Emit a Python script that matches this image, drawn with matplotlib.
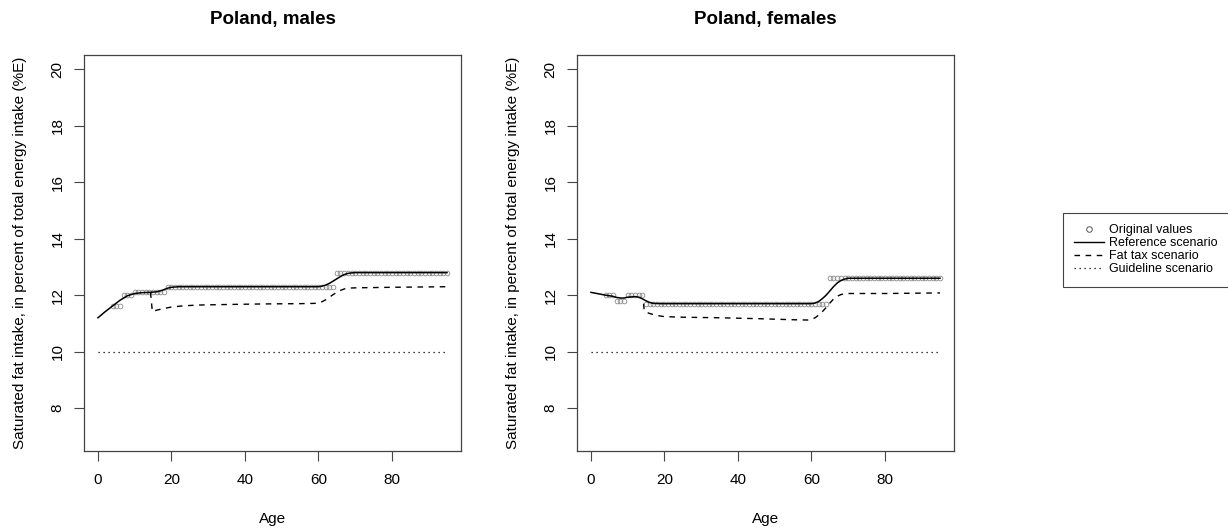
import matplotlib
matplotlib.use('Agg')
import matplotlib.pyplot as plt
from matplotlib.lines import Line2D

plt.rcParams['font.family'] = ['Liberation Sans', 'DejaVu Sans']

# ─────────────────────────────────────────────────────────────────────────────
# Data
# ─────────────────────────────────────────────────────────────────────────────

# original values: one circle per year of age, ages 4..95
orig_ages = list(range(4, 96))
males_orig = [11.6] * 3 + [12.0] * 3 + [12.1] * 9 + [12.3] * 46 + [12.8] * 31
females_orig = [12.0] * 3 + [11.8] * 3 + [12.0] * 5 + [11.7] * 50 + [12.6] * 31

# reference scenario (smoothed curve)
males_ref_ages = [0, 2, 4, 6, 8, 10, 12, 14, 16, 17, 18, 19, 20, 22, 60, 61, 62,
                  63, 64, 65, 66, 67, 68, 69, 70, 95]
males_ref = [11.2, 11.42, 11.62, 11.82, 11.98, 12.06, 12.09, 12.1, 12.12, 12.15,
             12.2, 12.25, 12.28, 12.3, 12.3, 12.32, 12.36, 12.42, 12.5, 12.58,
             12.66, 12.73, 12.77, 12.79, 12.8, 12.8]

females_ref_ages = [0, 2, 4, 6, 7, 8, 9, 10, 12, 13, 14, 15, 16, 17, 19, 60, 61,
                    62, 63, 64, 65, 66, 67, 68, 69, 70, 95]
females_ref = [12.1, 12.05, 12.0, 11.96, 11.92, 11.9, 11.9, 11.93, 11.95, 11.93,
               11.87, 11.8, 11.74, 11.71, 11.7, 11.7, 11.72, 11.78, 11.88, 12.0,
               12.15, 12.3, 12.43, 12.52, 12.57, 12.6, 12.6]

# fat tax scenario
males_tax_ages = [14.3, 14.8, 16, 18, 20, 23, 27, 35, 45, 55, 59, 60, 61, 62, 63,
                  64, 65, 66, 67, 68, 70, 80, 95]
males_tax = [12.1, 11.42, 11.47, 11.53, 11.58, 11.62, 11.65, 11.67, 11.69, 11.7,
             11.71, 11.73, 11.77, 11.84, 11.93, 12.02, 12.1, 12.17, 12.22, 12.25,
             12.26, 12.28, 12.3]

females_tax_ages = [14.3, 14.5, 15, 16, 18, 20, 25, 35, 45, 55, 59, 60, 61, 62, 63,
                    64, 65, 66, 67, 68, 69, 70, 80, 95]
females_tax = [11.7, 11.45, 11.4, 11.35, 11.28, 11.24, 11.22, 11.2, 11.17, 11.13,
               11.12, 11.14, 11.2, 11.3, 11.42, 11.56, 11.72, 11.86, 11.96, 12.02,
               12.05, 12.06, 12.06, 12.08]

# guideline scenario
guide_ages = [0, 95]
guide_vals = [10.0, 10.0]

x_ticks = [0, 20, 40, 60, 80]
y_ticks = [8, 10, 12, 14, 16, 18, 20]

W, H = 1228, 529
BOX_C = '#444444'


def draw_panel(ax, title, orig, ref_ages, ref, tax_ages, tax):
    ax.plot(orig_ages, orig, 'o', mfc='none', mec='#8a8a8a', ms=3.4, mew=0.6,
            zorder=2)
    ax.plot(ref_ages, ref, '-', color='black', lw=1.1, zorder=3)
    ax.plot(tax_ages, tax, color='black', lw=1.0, dashes=(4, 4), zorder=3)
    ax.plot(guide_ages, guide_vals, color='black', lw=0.9, dashes=(1, 3),
            zorder=3)

    ax.set_xlim(-3.8, 98.8)
    ax.set_ylim(6.48, 20.52)
    ax.set_xticks(x_ticks)
    ax.set_yticks(y_ticks)
    ax.tick_params(direction='out', length=7, width=0.8, color=BOX_C,
                   labelsize=11, pad=9)
    ax.tick_params(axis='y', labelrotation=90, pad=7)
    for lbl in ax.get_yticklabels():
        lbl.set_va('center')
    for sp in ax.spines.values():
        sp.set_color(BOX_C)
        sp.set_linewidth(0.9)

    ax.set_title(title, fontsize=13.5, fontweight='bold', pad=22)
    ax.set_xlabel('Age', fontsize=11)
    ax.set_ylabel('Saturated fat intake, in percent of total energy intake (%E)',
                  fontsize=11)
    ax.xaxis.set_label_coords(0.5, -0.155)
    ax.yaxis.set_label_coords(-0.152, 0.5)


fig = plt.figure(figsize=(W / 100, H / 100), dpi=100)
fig.patch.set_facecolor('white')

ax1 = fig.add_axes([84 / W, 1 - 451 / H, 377 / W, 396.3 / H])
ax2 = fig.add_axes([577 / W, 1 - 451 / H, 377 / W, 396.3 / H])

draw_panel(ax1, 'Poland, males', males_orig, males_ref_ages, males_ref,
           males_tax_ages, males_tax)
draw_panel(ax2, 'Poland, females', females_orig, females_ref_ages, females_ref,
           females_tax_ages, females_tax)

handles = [
    Line2D([], [], ls='none', marker='o', mfc='none', mec='#555555', ms=4,
           mew=0.7),
    Line2D([], [], color='black', lw=1.0),
    Line2D([], [], color='black', lw=1.0, dashes=(4, 4)),
    Line2D([], [], color='black', lw=0.9, dashes=(1, 3)),
]
labels = ['Original values', 'Reference scenario', 'Fat tax scenario',
          'Guideline scenario']
leg = fig.legend(handles, labels, loc='upper left',
                 bbox_to_anchor=(1063 / W, 1 - 213 / H), borderaxespad=0,
                 fontsize=9, handlelength=2.4, handletextpad=0.4,
                 labelspacing=0.08, borderpad=0.9, fancybox=False,
                 framealpha=1)
leg.get_frame().set_edgecolor(BOX_C)
leg.get_frame().set_linewidth(0.8)

plt.savefig('out.png', dpi=100)
plt.close()
